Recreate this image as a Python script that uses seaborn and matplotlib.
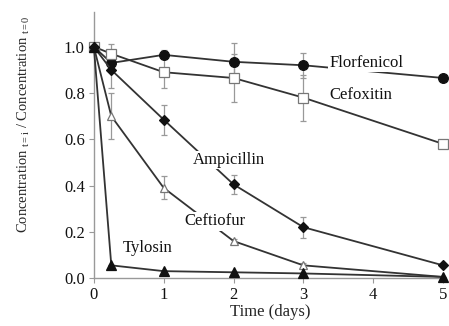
import numpy as np
import pandas as pd
import matplotlib
matplotlib.use("Agg")
import matplotlib.pyplot as plt
import seaborn as sns

sns.set_style("ticks")
plt.rcParams['font.family'] = ['Liberation Serif', 'DejaVu Serif']
plt.rcParams['mathtext.fontset'] = 'custom'
plt.rcParams['mathtext.rm'] = 'Liberation Serif'
plt.rcParams['mathtext.it'] = 'Liberation Serif:italic'

time = [0, 0.25, 1, 2, 3, 5]
florfenicol = [1.0, 0.93, 0.965, 0.935, 0.92, 0.865]
florfenicol_err = [0, 0.03, 0.02, 0.08, 0.055, 0]
cefoxitin = [1.0, 0.97, 0.89, 0.865, 0.78, 0.58]
cefoxitin_err = [0, 0.04, 0.07, 0.105, 0.10, 0]
ampicillin = [1.0, 0.90, 0.685, 0.405, 0.22, 0.055]
ampicillin_err = [0, 0.08, 0.065, 0.04, 0.045, 0]
ceftiofur = [1.0, 0.70, 0.39, 0.16, 0.055, 0.005]
ceftiofur_err = [0, 0.10, 0.05, 0.01, 0.01, 0]
tylosin = [1.0, 0.055, 0.03, 0.025, 0.02, 0.005]
tylosin_err = [0, 0, 0, 0, 0, 0]

series = [
    ("Florfenicol", florfenicol, florfenicol_err, "o", "#111111", 7),
    ("Cefoxitin", cefoxitin, cefoxitin_err, "s", "white", 7),
    ("Ampicillin", ampicillin, ampicillin_err, "D", "#111111", 5.5),
    ("Ceftiofur", ceftiofur, ceftiofur_err, "^", "white", 6),
    ("Tylosin", tylosin, tylosin_err, "^", "#111111", 6.5),
]

fig = plt.figure(figsize=(4.49, 3.26), dpi=100)
ax = fig.add_axes([0.209, 0.147, 0.784, 0.816])

line_col = "#333333"
for name, vals, errs, mk, fc, ms in series:
    ax.errorbar(time, vals, yerr=errs, fmt='none', ecolor="#999999",
                elinewidth=0.9, capsize=2.5, capthick=0.9, zorder=2, clip_on=False)
    sns.lineplot(x=time, y=vals, ax=ax, color=line_col, lw=1.3,
                 marker=mk, markersize=ms, markerfacecolor=fc,
                 markeredgecolor="#111111" if fc != "white" else "#777777",
                 markeredgewidth=0.9, clip_on=False, zorder=3)

labels = [
    ("Florfenicol", 3.37, 0.93),
    ("Cefoxitin", 3.37, 0.79),
    ("Ampicillin", 1.42, 0.51),
    ("Ceftiofur", 1.30, 0.245),
    ("Tylosin", 0.42, 0.13),
]
for txt, x, y in labels:
    ax.text(x, y, txt, fontsize=12, va='center', ha='left', color="#111111",
            bbox=dict(facecolor='white', edgecolor='none', pad=1.0), zorder=5)

ax.set_xlim(0, 5.04)
ax.set_ylim(0, 1.15)
ax.set_xticks([0, 1, 2, 3, 4, 5])
ax.set_yticks([0.0, 0.2, 0.4, 0.6, 0.8, 1.0])
ax.set_yticklabels(["0.0", "0.2", "0.4", "0.6", "0.8", "1.0"])
ax.tick_params(labelsize=12, labelcolor="#111111", length=3.5, width=0.8,
               color="#999999", pad=3)
for s in ['top', 'right']:
    ax.spines[s].set_visible(False)
for s in ['left', 'bottom']:
    ax.spines[s].set_color("#999999")
    ax.spines[s].set_linewidth(1.0)

ax.set_xlabel("Time (days)", fontsize=12, labelpad=1)
ax.set_ylabel(r"Concentration $_{\mathrm{t=i}}$ / Concentration $_{\mathrm{t=0}}$",
              fontsize=10.5)
ax.yaxis.set_label_coords(-0.175, 0.58)

fig.savefig("out.png", dpi=100)
